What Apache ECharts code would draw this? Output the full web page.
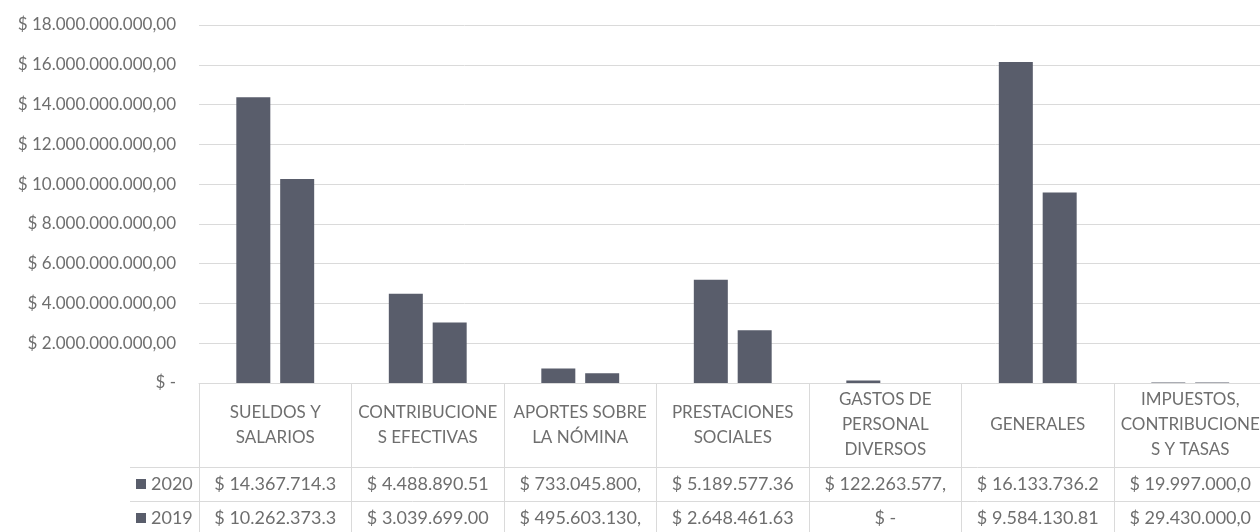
<!DOCTYPE html>
<html>
<head>
<meta charset="utf-8">
<script src="https://cdn.jsdelivr.net/npm/echarts@6/dist/echarts.min.js"></script>
<style>
html,body{margin:0;padding:0;background:#fff;}
#c{width:1260px;height:532px;}
</style>
</head>
<body>
<div id="c"></div>
<script>
const categories = ['SUELDOS Y\nSALARIOS', 'CONTRIBUCIONE\nS EFECTIVAS', 'APORTES SOBRE\nLA NÓMINA', 'PRESTACIONES\nSOCIALES', 'GASTOS DE\nPERSONAL\nDIVERSOS', 'GENERALES', 'IMPUESTOS,\nCONTRIBUCIONE\nS Y TASAS'];
const seriesNames = ['2020', '2019'];
const values2020 = [14367714300, 4488890510, 733045800, 5189577360, 122263577, 16133736200, 19997000];
const values2019 = [10262373300, 3039699000, 495603130, 2648461630, 0, 9584130810, 29430000];
const yTickLabels = ['$ -', '$ 2.000.000.000,00', '$ 4.000.000.000,00', '$ 6.000.000.000,00', '$ 8.000.000.000,00', '$ 10.000.000.000,00', '$ 12.000.000.000,00', '$ 14.000.000.000,00', '$ 16.000.000.000,00', '$ 18.000.000.000,00'];
const yMax = 18000000000;
const yInterval = 2000000000;

const FONT = 'Lato';
const TXT = '#6e6e6e';
const BAR = '#595d6b';
const LINE = '#dadada';

function fmtCell(v) {
  if (!v) return '$ -';
  const s = v.toFixed(2);
  const parts = s.split('.');
  const ip = parts[0].replace(/\B(?=(\d{3})+(?!\d))/g, '.');
  return ('$ ' + ip + ',' + parts[1]).slice(0, 14);
}

const chart = echarts.init(document.getElementById('c'), null, {renderer: 'canvas'});
chart.setOption({
  animation: false,
  backgroundColor: '#ffffff',
  grid: {left: 199, right: -6.5, top: 25, bottom: 149, containLabel: false, outerBoundsMode: 'none'},
  legend: {
    data: seriesNames,
    orient: 'vertical',
    left: 136,
    top: 475,
    padding: 0,
    itemWidth: 10,
    itemHeight: 10,
    itemGap: 16,
    icon: 'rect',
    selectedMode: false,
    textStyle: {fontFamily: FONT, fontSize: 18, color: TXT, lineHeight: 18}
  },
  xAxis: [
    {
      type: 'category', data: categories, position: 'bottom',
      axisLine: {show: true, lineStyle: {color: LINE, width: 1}},
      axisTick: {show: true, interval: 0, length: 149, lineStyle: {color: LINE, width: 1}},
      axisLabel: {interval: 0, margin: 42, verticalAlign: 'middle', lineHeight: 25, fontFamily: FONT, fontSize: 17, color: TXT}
    },
    {
      type: 'category', data: categories, position: 'bottom',
      axisLine: {show: false}, axisTick: {show: false}, splitLine: {show: false},
      axisLabel: {interval: 0, margin: 101, verticalAlign: 'middle', fontFamily: FONT, fontSize: 18, color: TXT,
        formatter: function (v, i) { return fmtCell(values2020[i]); }}
    },
    {
      type: 'category', data: categories, position: 'bottom',
      axisLine: {show: false}, axisTick: {show: false}, splitLine: {show: false},
      axisLabel: {interval: 0, margin: 135, verticalAlign: 'middle', fontFamily: FONT, fontSize: 18, color: TXT,
        formatter: function (v, i) { return fmtCell(values2019[i]); }}
    }
  ],
  yAxis: {
    type: 'value', min: 0, max: yMax, interval: yInterval,
    axisLine: {show: false}, axisTick: {show: false},
    splitLine: {show: true, lineStyle: {color: LINE, width: 1}},
    axisLabel: {margin: 23, fontFamily: FONT, fontSize: 17, color: TXT,
      formatter: function (v) { return yTickLabels[Math.round(v / yInterval)]; }}
  },
  series: [
    {name: seriesNames[0], type: 'bar', xAxisIndex: 0, data: values2020, barWidth: 34, barGap: '29%', itemStyle: {color: BAR}},
    {name: seriesNames[1], type: 'bar', xAxisIndex: 0, data: values2019, barWidth: 34, barGap: '29%', itemStyle: {color: BAR}}
  ],
  graphic: [
    {type: 'line', silent: true, shape: {x1: 130, y1: 467.5, x2: 1260, y2: 467.5}, style: {stroke: LINE, lineWidth: 1}},
    {type: 'line', silent: true, shape: {x1: 130, y1: 501.5, x2: 1260, y2: 501.5}, style: {stroke: LINE, lineWidth: 1}}
  ]
});
</script>
</body>
</html>
